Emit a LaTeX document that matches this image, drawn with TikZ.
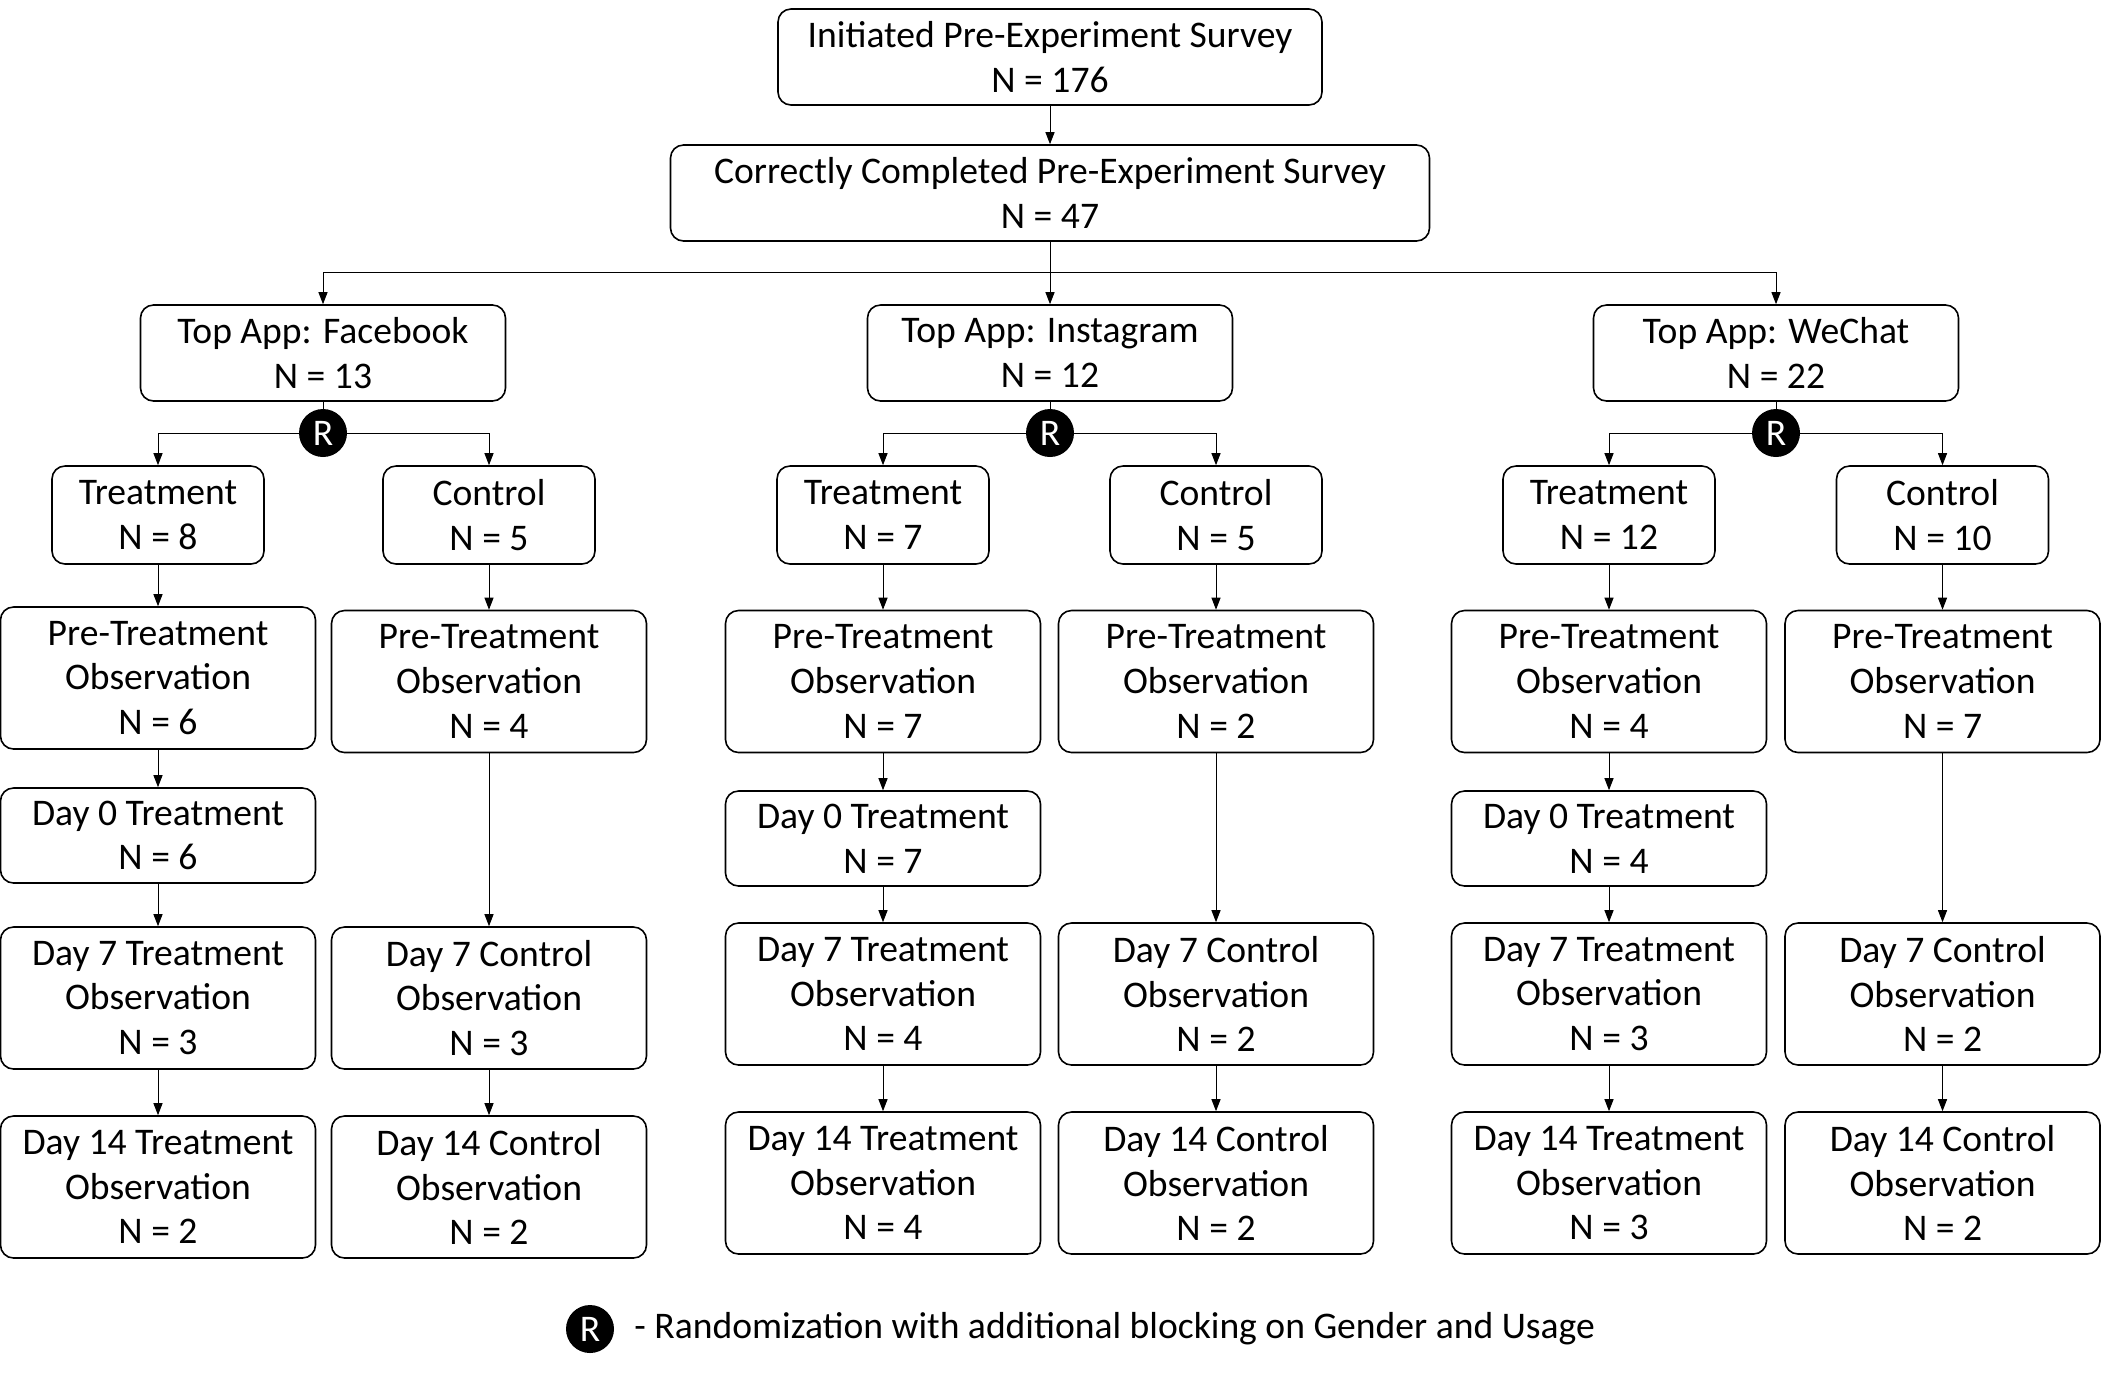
\documentclass[tikz,border=0pt]{standalone}
\usepackage{fontspec}
\setmainfont{Carlito}
\usetikzlibrary{arrows.meta}
\begin{document}
\begin{tikzpicture}[x=0.5pt,y=-0.5pt,
  box/.style={draw, line width=0.8pt, rounded corners=6.5pt, align=center, inner sep=0pt,
    font=\fontsize{18.8}{22.4}\selectfont},
  initbox/.style={box, minimum width=272pt, minimum height=48pt},
  compbox/.style={box, minimum width=379.5pt, minimum height=48pt},
  appbox/.style={box, minimum width=182.5pt, minimum height=48pt},
  tcbox/.style={box, minimum width=106pt, minimum height=49pt},
  obsbox/.style={box, minimum width=157.5pt, minimum height=71pt},
  dzbox/.style={box, minimum width=157.5pt, minimum height=47.5pt},
  rnode/.style={circle, fill=black, text=white, inner sep=0pt, minimum size=24pt,
    font=\fontsize{18.8}{22.4}\selectfont},
  conn/.style={line width=0.5pt},
  arr/.style={conn, -{Triangle[length=6pt,width=4.5pt]}},
  legtext/.style={anchor=west, inner sep=0pt, font=\fontsize{18.8}{22.4}\selectfont}
]
\useasboundingbox (0,0) rectangle (2102,1373);

% top
\node[initbox] (init) at (1050,57) {Initiated Pre-Experiment Survey\\N = 176};
\node[compbox] (comp) at (1050,193) {Correctly Completed Pre-Experiment Survey\\N = 47};
\node[appbox] (fb) at (323,353) {Top App: Facebook\\N = 13};
\node[appbox] (ig) at (1050,353) {Top App: Instagram\\N = 12};
\node[appbox] (wc) at (1776,353) {Top App: WeChat\\N = 22};
\coordinate (bus) at (1050,272);

\draw[arr] (init) -- (comp);
\draw[arr] (comp) -- (ig);
\draw[arr] (bus) -| (fb.north);
\draw[arr] (bus) -| (wc.north);

% randomization nodes
\node[rnode] (fbR) at (323,433) {R};
\node[rnode] (igR) at (1050,433) {R};
\node[rnode] (wcR) at (1776,433) {R};

% Facebook group
\node[tcbox] (fbT) at (158,515) {Treatment\\N = 8};
\node[tcbox] (fbC) at (489,515) {Control\\N = 5};
\node[obsbox] (fbPT) at (158,678) {Pre-Treatment\\Observation\\N = 6};
\node[obsbox] (fbPC) at (489,681.5) {Pre-Treatment\\Observation\\N = 4};
\node[dzbox] (fbD0) at (158,835.5) {Day 0 Treatment\\N = 6};
\node[obsbox] (fbD7T) at (158,998) {Day 7 Treatment\\Observation\\N = 3};
\node[obsbox] (fbD7C) at (489,998) {Day 7 Control\\Observation\\N = 3};
\node[obsbox] (fbD14T) at (158,1187) {Day 14 Treatment\\Observation\\N = 2};
\node[obsbox] (fbD14C) at (489,1187) {Day 14 Control\\Observation\\N = 2};

% Instagram group
\node[tcbox] (igT) at (883,515) {Treatment\\N = 7};
\node[tcbox] (igC) at (1216,515) {Control\\N = 5};
\node[obsbox] (igPT) at (883,681.5) {Pre-Treatment\\Observation\\N = 7};
\node[obsbox] (igPC) at (1216,681.5) {Pre-Treatment\\Observation\\N = 2};
\node[dzbox] (igD0) at (883,838.5) {Day 0 Treatment\\N = 7};
\node[obsbox] (igD7T) at (883,994) {Day 7 Treatment\\Observation\\N = 4};
\node[obsbox] (igD7C) at (1216,994) {Day 7 Control\\Observation\\N = 2};
\node[obsbox] (igD14T) at (883,1183) {Day 14 Treatment\\Observation\\N = 4};
\node[obsbox] (igD14C) at (1216,1183) {Day 14 Control\\Observation\\N = 2};

% WeChat group
\node[tcbox] (wcT) at (1609,515) {Treatment\\N = 12};
\node[tcbox] (wcC) at (1942.5,515) {Control\\N = 10};
\node[obsbox] (wcPT) at (1609,681.5) {Pre-Treatment\\Observation\\N = 4};
\node[obsbox] (wcPC) at (1942.5,681.5) {Pre-Treatment\\Observation\\N = 7};
\node[dzbox] (wcD0) at (1609,838.5) {Day 0 Treatment\\N = 4};
\node[obsbox] (wcD7T) at (1609,994) {Day 7 Treatment\\Observation\\N = 3};
\node[obsbox] (wcD7C) at (1942.5,994) {Day 7 Control\\Observation\\N = 2};
\node[obsbox] (wcD14T) at (1609,1183) {Day 14 Treatment\\Observation\\N = 3};
\node[obsbox] (wcD14C) at (1942.5,1183) {Day 14 Control\\Observation\\N = 2};

% connectors per group
\foreach \g in {fb,ig,wc}{
  \draw[conn] (\g) -- (\g R);
  \draw[arr] (\g R.west) -| (\g T.north);
  \draw[arr] (\g R.east) -| (\g C.north);
  \draw[arr] (\g T) -- (\g PT);
  \draw[arr] (\g C) -- (\g PC);
  \draw[arr] (\g PT) -- (\g D0);
  \draw[arr] (\g D0) -- (\g D7T);
  \draw[arr] (\g PC) -- (\g D7C);
  \draw[arr] (\g D7T) -- (\g D14T);
  \draw[arr] (\g D7C) -- (\g D14C);
}

% legend
\node[rnode] (legR) at (590,1329) {R};
\node[legtext] (leg) at (634,1329) {- Randomization with additional blocking on Gender and Usage};
\end{tikzpicture}
\end{document}
